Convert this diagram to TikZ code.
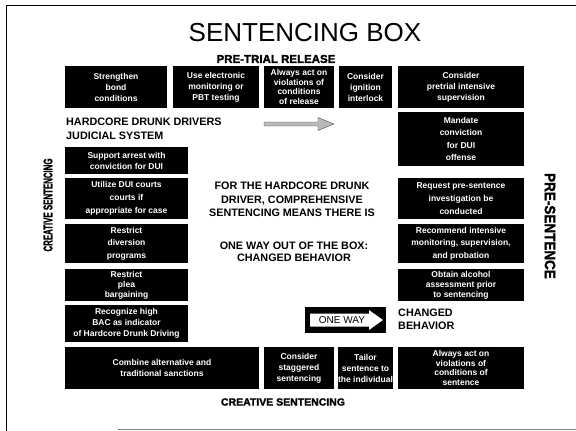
\documentclass[tikz,border=0pt]{standalone}
\usepackage{fontspec}
\setmainfont{Liberation Sans}
\newfontfamily\heavyfont{Liberation Sans}[UprightFeatures={FakeBold=1.5}, BoldFeatures={FakeBold=1.5}]
\usepackage{graphicx}
\newcommand\boxfont{\fontsize{8.5}{11}\selectfont\bfseries}
\newcommand\bxnode[6]{\node[bx, minimum width={#4pt-#2pt}, minimum height={#5pt-#3pt}] (#1) at ({(#2+#4)/2},{(#3+#5)/2}) {#6};}
\tikzset{
  bx/.style={fill=black, text=white, inner sep=0pt, align=center, font=\boxfont},
  heading/.style={font=\fontsize{10.8}{13.5}\selectfont\bfseries, inner sep=0pt},
  label/.style={inner sep=0pt, font=\heavyfont\bfseries}
}
\begin{document}
\begin{tikzpicture}[x=1pt,y=-1pt]
\useasboundingbox (0,0) rectangle (576,431);
% frame
\draw[line width=1.4pt] (6.5,431) -- (6.5,5.5) -- (576,5.5);
\draw[gray, line width=0.8pt] (118,429) -- (576,429);
% title
\node[inner sep=0pt, font=\fontsize{26}{30}\selectfont] (title) at (305,33) {SENTENCING BOX};
\node[label, font=\heavyfont\fontsize{11.5}{13}\selectfont\bfseries] (ptr) at (276,59) {PRE-TRIAL RELEASE};
% top row
\bxnode{t1}{65}{66}{167}{108}{Strengthen\\bond\\conditions}
\bxnode{t2}{173}{66}{259}{108}{Use electronic\\monitoring or\\PBT testing}
\node[bx, font=\fontsize{8.5}{9.8}\selectfont\bfseries, minimum width=70pt, minimum height=42pt] (t3) at (299,87) {Always act on\\violations of\\conditions\\of release};
\bxnode{t4}{339}{66}{392}{108}{Consider\\ignition\\interlock}
\bxnode{t5}{398}{66}{524}{108}{Consider\\pretrial intensive\\supervision}
% heading left
\node[heading, anchor=north west, align=left] (hdd) at (66,118) {HARDCORE DRUNK DRIVERS\\JUDICIAL SYSTEM};
% arrow
\coordinate (a0) at (264,124);
\fill[gray!55, draw=gray!60!black, line width=0.4pt] (264,122) -- (318,122) -- (318,117.5) -- (334,124) -- (318,130.5) -- (318,126) -- (264,126) -- cycle;
% left column
\bxnode{l1}{65}{147}{188}{174}{Support arrest with\\conviction for DUI}
\node[bx, font=\fontsize{8.5}{13}\selectfont\bfseries, minimum width=123pt, minimum height=41pt] (l2) at (126.5,198.5) {Utilize DUI courts\\courts if\\appropriate for case};
\node[bx, font=\fontsize{8.5}{12.5}\selectfont\bfseries, minimum width=123pt, minimum height=39pt] (l3) at (126.5,243.5) {Restrict\\diversion\\programs};
\node[bx, font=\fontsize{8.5}{10}\selectfont\bfseries, minimum width=123pt, minimum height=32pt] (l4) at (126.5,285) {Restrict\\plea\\bargaining};
\bxnode{l5}{65}{305}{188}{342}{Recognize high\\BAC as indicator\\of Hardcore Drunk Driving}
% right column
\node[bx, font=\fontsize{8.5}{12.5}\selectfont\bfseries, minimum width=126pt, minimum height=54pt] (r1) at (461,139) {Mandate\\conviction\\for DUI\\offense};
\node[bx, font=\fontsize{8.5}{13}\selectfont\bfseries, minimum width=126pt, minimum height=41pt] (r2) at (461,198.5) {Request pre-sentence\\investigation be\\conducted};
\node[bx, font=\fontsize{8.5}{12.5}\selectfont\bfseries, minimum width=126pt, minimum height=39pt] (r3) at (461,243.5) {Recommend intensive\\monitoring, supervision,\\and probation};
\node[bx, font=\fontsize{8.5}{10}\selectfont\bfseries, minimum width=126pt, minimum height=32pt] (r4) at (461,285) {Obtain alcohol\\assessment prior\\to sentencing};
% bottom row
\bxnode{b1}{65}{347}{259}{389}{Combine alternative and\\traditional sanctions}
\bxnode{b2}{264}{347}{334}{389}{Consider\\staggered\\sentencing}
\bxnode{b3}{339}{347}{392}{389}{Tailor\\sentence to\\the individual}
\node[bx, font=\fontsize{8.5}{9.8}\selectfont\bfseries, minimum width=126pt, minimum height=42pt] (b4) at (461,368) {Always act on\\violations of\\conditions of\\sentence};
% centre text
\node[heading, align=center] (c1) at (292,199.5) {FOR THE HARDCORE DRUNK\\DRIVER, COMPREHENSIVE\\SENTENCING MEANS THERE IS};
\node[heading, align=center, font=\fontsize{10.8}{12.5}\selectfont\bfseries] (c2) at (294,252) {ONE WAY OUT OF THE BOX:\\CHANGED BEHAVIOR};
% one way sign
\node[fill=black, minimum width=81pt, minimum height=26pt, inner sep=0pt] (ow) at (345.5,320) {};
\fill[white] (310,313.5) -- (369,313.5) -- (369,310) -- (383,320) -- (369,330) -- (369,326.5) -- (310,326.5) -- cycle;
\node[inner sep=0pt, font=\fontsize{10}{12}\selectfont] (owt) at (342,320.5) {ONE WAY};
\node[heading, anchor=west, align=left, font=\fontsize{10.8}{13}\selectfont\bfseries] (cb) at (398,319.5) {CHANGED\\BEHAVIOR};
% side labels
\node[label, rotate=90] (lcs) at (48,205) {\scalebox{0.63}[1]{\heavyfont\fontsize{12.5}{14}\selectfont\bfseries CREATIVE SENTENCING}};
\node[label, rotate=-90] (rps) at (550,226) {\scalebox{0.9}[1]{\heavyfont\fontsize{15}{17}\selectfont\bfseries PRE-SENTENCE}};
\node[label, font=\heavyfont\fontsize{10.5}{12}\selectfont\bfseries] (bcs) at (283,402) {CREATIVE SENTENCING};
\end{tikzpicture}
\end{document}
